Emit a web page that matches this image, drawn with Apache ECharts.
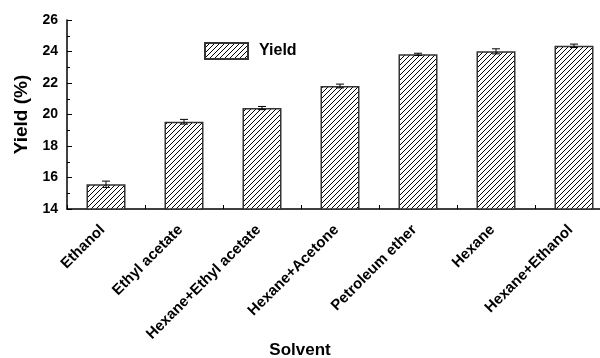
<!DOCTYPE html>
<html>
<head>
<meta charset="utf-8">
<script src="https://cdn.jsdelivr.net/npm/echarts@6/dist/echarts.min.js"></script>
<style>
  html, body { margin: 0; padding: 0; background: #fff; }
  #chart { width: 600px; height: 358px; }
</style>
</head>
<body>
<div id="chart"></div>
<script>
// Extraction yield by solvent, mean with standard deviation
const solvents = ['Ethanol', 'Ethyl acetate', 'Hexane+Ethyl acetate', 'Hexane+Acetone', 'Petroleum ether', 'Hexane', 'Hexane+Ethanol'];
const yieldMean = [15.57, 19.54, 20.41, 21.81, 23.82, 24.01, 24.36];
const yieldErr = [0.2, 0.15, 0.1, 0.12, 0.07, 0.16, 0.11];
const yTicks = [14, 16, 18, 20, 22, 24, 26];

const FONT = '"Liberation Sans", Arial, sans-serif';

// diagonal hatch fill
function hatch() {
  const c = document.createElement('canvas');
  c.width = 5; c.height = 5;
  const g = c.getContext('2d');
  g.fillStyle = '#fff';
  g.fillRect(0, 0, 5, 5);
  g.strokeStyle = '#000';
  g.lineWidth = 1;
  g.beginPath();
  g.moveTo(-1, 6); g.lineTo(6, -1);
  g.moveTo(-1, 1); g.lineTo(1, -1);
  g.moveTo(4, 6); g.lineTo(6, 4);
  g.stroke();
  return c;
}

const chart = echarts.init(document.getElementById('chart'));
chart.setOption({
  animation: false,
  backgroundColor: '#fff',
  // the plot runs a little past the right edge of the canvas
  grid: { left: 67, width: 546, top: 20, height: 189, containLabel: false, outerBoundsMode: 'none' },
  legend: {
    data: ['Yield'],
    left: 204, top: 42,
    padding: 0,
    icon: 'rect',
    itemWidth: 43, itemHeight: 16,
    textStyle: { fontFamily: FONT, fontWeight: 'bold', fontSize: 16, color: '#000', padding: [0, 0, 0, 6] }
  },
  xAxis: {
    type: 'category',
    data: solvents,
    axisLine: { lineStyle: { color: '#000', width: 1.5 } },
    axisTick: { show: true, inside: true, length: 4, lineStyle: { color: '#000' } },
    axisLabel: {
      rotate: 45, interval: 0, margin: 15,
      padding: [0, 5, 0, 0],
      fontFamily: FONT, fontWeight: 'bold', fontSize: 15, color: '#000'
    },
    splitLine: { show: false }
  },
  yAxis: {
    type: 'value',
    min: yTicks[0], max: yTicks[yTicks.length - 1], interval: 2,
    name: 'Yield (%)',
    nameLocation: 'middle', nameGap: 34, nameRotate: 90,
    nameTextStyle: { fontFamily: FONT, fontWeight: 'bold', fontSize: 19, color: '#000' },
    axisLine: { show: true, lineStyle: { color: '#000', width: 1.5 } },
    axisTick: { show: true, inside: true, length: 5, lineStyle: { color: '#000' } },
    minorTick: { show: true, splitNumber: 2, length: 3, lineStyle: { color: '#000' } },
    axisLabel: { margin: 9, fontFamily: FONT, fontWeight: 'bold', fontSize: 14, color: '#000' },
    splitLine: { show: false }
  },
  graphic: [{
    type: 'text', left: 'center', top: 342,
    style: { text: 'Solvent', font: 'bold 17px ' + FONT, fill: '#000' }
  }],
  series: [
    {
      name: 'Yield',
      type: 'bar',
      barWidth: 39,
      data: yieldMean,
      itemStyle: {
        color: { image: hatch(), repeat: 'repeat' },
        borderColor: '#333',
        borderWidth: 1.5
      }
    },
    {
      name: 'err',
      type: 'custom',
      z: 5,
      data: solvents.map((s, i) => [i, yieldMean[i] - yieldErr[i], yieldMean[i] + yieldErr[i]]),
      renderItem: function (params, api) {
        const lo = api.coord([api.value(0), api.value(1)]);
        const hi = api.coord([api.value(0), api.value(2)]);
        const w = 4;
        const st = { stroke: '#000', lineWidth: 1 };
        return {
          type: 'group',
          children: [
            { type: 'line', shape: { x1: hi[0], y1: hi[1], x2: lo[0], y2: lo[1] }, style: st },
            { type: 'line', shape: { x1: hi[0] - w, y1: hi[1], x2: hi[0] + w, y2: hi[1] }, style: st },
            { type: 'line', shape: { x1: lo[0] - w, y1: lo[1], x2: lo[0] + w, y2: lo[1] }, style: st }
          ]
        };
      }
    }
  ]
});
</script>
</body>
</html>
